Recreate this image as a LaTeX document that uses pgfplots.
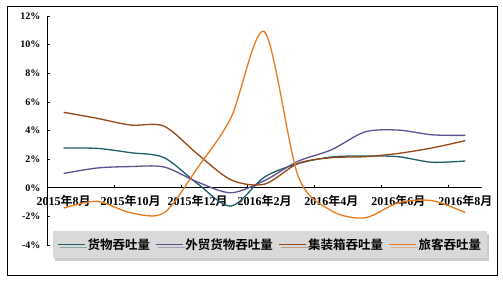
\documentclass[border=0pt]{standalone}
\usepackage{fontspec}
\setmainfont{Liberation Serif}
\newfontfamily\cjk{Noto Sans CJK SC}[BoldFont={Noto Sans CJK SC Bold}]
\usepackage{pgfplots}
\pgfplotsset{compat=1.18}
\usetikzlibrary{shadows}
\definecolor{cTeal}{RGB}{31,95,105}
\definecolor{cPurple}{RGB}{96,80,145}
\definecolor{cBrown}{RGB}{150,72,20}
\definecolor{cOrange}{RGB}{232,122,30}
\newcommand\ym[2]{#1{\cjk 年}#2{\cjk 月}}
\begin{document}
\begin{tikzpicture}[x=1pt,y=1pt]
\path (0,0) rectangle (503,282);
\draw[line width=0.8pt] (7,7) rectangle (497,276);
\begin{axis}[
 at={(47pt,37pt)}, anchor=south west,
 scale only axis, width=435pt, height=229pt,
 xmin=-0.5, xmax=12.5, ymin=-4, ymax=12,
 axis x line=middle, axis y line=left,
 axis line style={-, black, line width=0.6pt},
 hide obscured x ticks=false, hide obscured y ticks=false,
 tick align=inside, major tick length=3pt,
 tick style={black, line width=0.6pt},
 xtick={1.5,3.5,5.5,7.5,9.5,11.5}, xticklabels={},
 extra x ticks={0,2,4,6,8,10,12},
 extra x tick labels={\ym{2015}{8},\ym{2015}{10},\ym{2015}{12},\ym{2016}{2},\ym{2016}{4},\ym{2016}{6},\ym{2016}{8}},
 extra x tick style={major tick length=0pt, tick label style={font=\bfseries\fontsize{12}{12}\selectfont, yshift=-3.5pt}},
 ytick={-4,-2,...,12},
 yticklabels={-4\%,-2\%,0\%,2\%,4\%,6\%,8\%,10\%,12\%},
 yticklabel style={font=\bfseries\fontsize{10}{10}\selectfont, xshift=-3pt},
 legend columns=4,
 legend style={at={(axis description cs:0.513,0.002)}, anchor=center, fill=black!15, draw=none,
   drop shadow={opacity=0.4, shadow xshift=2pt, shadow yshift=-3pt},
   font=\cjk\bfseries\fontsize{12.5}{12.5}\selectfont, inner xsep=4pt, inner ysep=5pt,
   /tikz/every even column/.append style={column sep=3pt}},
 legend image code/.code={\draw[#1, line width=1.3pt] (0pt,0pt) -- (27pt,0pt);},
]
\addplot[cTeal, line width=1.3pt, smooth] coordinates {(0,2.77) (1,2.75) (2,2.45) (3,2.1) (4,0.28) (5,-1.28) (6,0.75) (7,1.68) (8,2.15) (9,2.22) (10,2.17) (11,1.78) (12,1.87)};
\addlegendentry{货物吞吐量}
\addplot[cPurple, line width=1.3pt, smooth] coordinates {(0,1.0) (1,1.38) (2,1.48) (3,1.45) (4,0.4) (5,-0.35) (6,0.5) (7,1.85) (8,2.65) (9,3.9) (10,4.03) (11,3.7) (12,3.66)};
\addlegendentry{外贸货物吞吐量}
\addplot[cBrown, line width=1.3pt, smooth] coordinates {(0,5.27) (1,4.85) (2,4.38) (3,4.3) (4,2.35) (5,0.55) (6,0.25) (7,1.7) (8,2.1) (9,2.17) (10,2.4) (11,2.78) (12,3.29)};
\addlegendentry{集装箱吞吐量}
\addplot[cOrange, line width=1.3pt, smooth] coordinates {(0,-1.42) (1,-0.95) (2,-1.75) (3,-1.75) (4,1.4) (5,4.9) (6,10.9) (7,0.85) (8,-1.6) (9,-2.1) (10,-1.05) (11,-0.9) (12,-1.73)};
\addlegendentry{旅客吞吐量}
\end{axis}
\end{tikzpicture}
\end{document}
